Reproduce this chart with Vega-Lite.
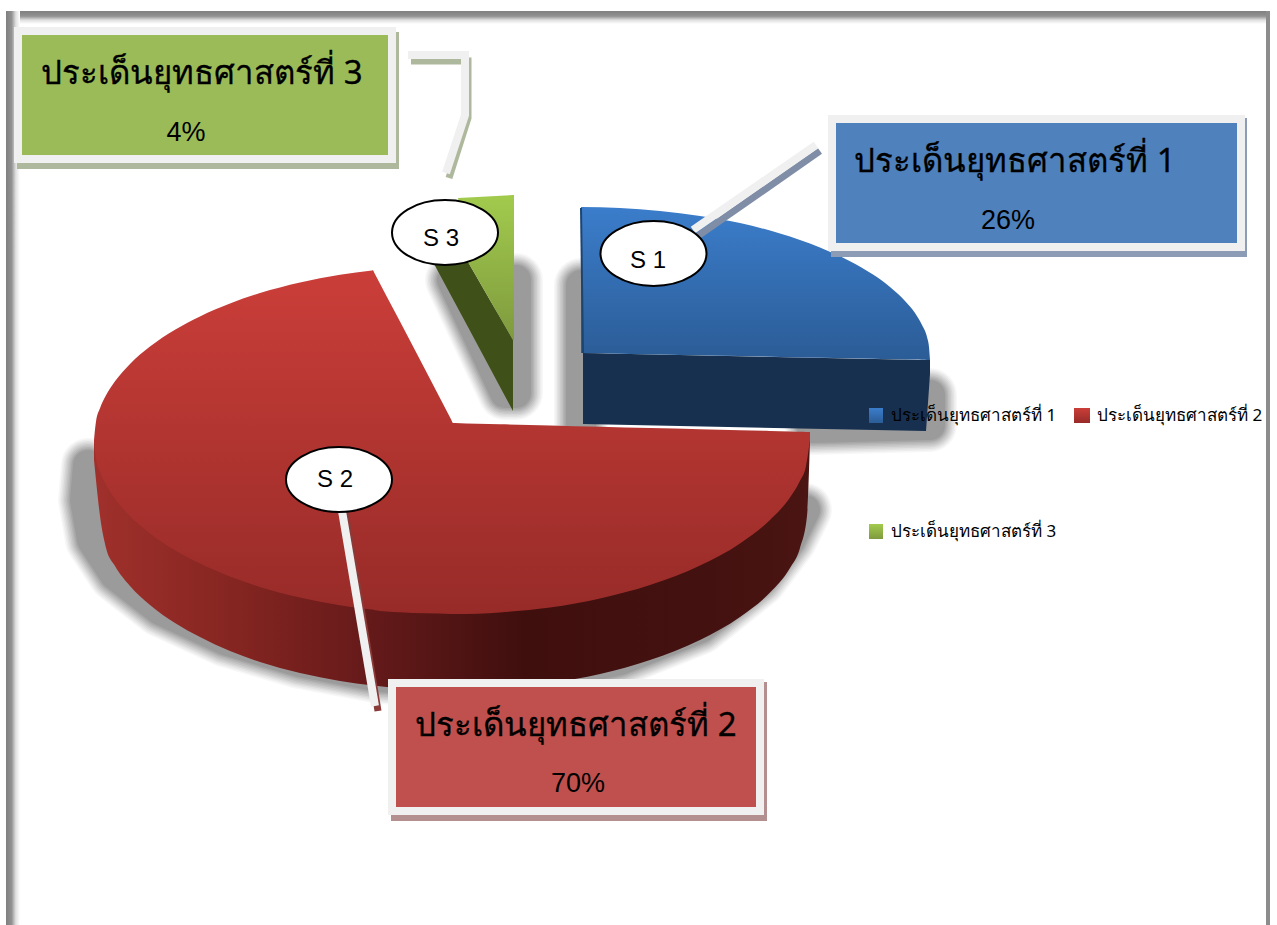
{"$schema":"https://vega.github.io/schema/vega-lite/v6.json","width":1277,"height":925,"padding":0,"autosize":"none","background":"white","config":{"view":{"stroke":null}},
"datasets":{
"redTop":[{"x":94,"y":440,"y2":440},{"x":96,"y":421.6,"y2":458.4},{"x":100,"y":408.3,"y2":471.7},{"x":106,"y":395.3,"y2":484.7},{"x":115,"y":381.3,"y2":498.7},{"x":130,"y":363.9,"y2":516.1},{"x":150,"y":346.6,"y2":533.4},{"x":175,"y":329.8,"y2":550.2},{"x":200,"y":316.4,"y2":563.6},{"x":230,"y":303.5,"y2":576.5},{"x":260,"y":293.1,"y2":586.9},{"x":300,"y":282.5,"y2":597.5},{"x":340,"y":274.7,"y2":605.3},{"x":372,"y":270.4,"y2":609.6},{"x":373,"y":270.3,"y2":609.7},{"x":374,"y":272.2,"y2":609.9},{"x":400,"y":321.6,"y2":612.2},{"x":451,"y":419.2,"y2":613.9},{"x":453,"y":423,"y2":614},{"x":455,"y":423.1,"y2":614},{"x":500,"y":424.2,"y2":612.4},{"x":550,"y":425.4,"y2":607.4},{"x":600,"y":426.7,"y2":598.4},{"x":650,"y":428,"y2":585},{"x":700,"y":429.2,"y2":565.5},{"x":740,"y":430.2,"y2":543.4},{"x":770,"y":431,"y2":519.9},{"x":790,"y":431.5,"y2":497.4},{"x":800,"y":431.8,"y2":480.8},{"x":806,"y":431.9,"y2":465.9},{"x":810,"y":432,"y2":440}],
"redSide":[{"x":94,"y":440,"y2":460},{"x":97,"y":440,"y2":490},{"x":100,"y":440,"y2":516},{"x":106,"y":440,"y2":548},{"x":115,"y":440,"y2":566},{"x":130,"y":440,"y2":586},{"x":150,"y":440,"y2":605},{"x":175,"y":440,"y2":623},{"x":200,"y":440,"y2":637},{"x":230,"y":440,"y2":651},{"x":260,"y":440,"y2":662},{"x":300,"y":440,"y2":673},{"x":340,"y":440,"y2":681},{"x":373,"y":440,"y2":685.5},{"x":400,"y":440,"y2":688},{"x":453,"y":440,"y2":690},{"x":500,"y":440,"y2":688.4},{"x":550,"y":440,"y2":683},{"x":600,"y":440,"y2":674},{"x":650,"y":440,"y2":660},{"x":700,"y":440,"y2":640},{"x":740,"y":440,"y2":617},{"x":770,"y":440,"y2":592.6},{"x":790,"y":440,"y2":568},{"x":800,"y":440,"y2":548},{"x":807,"y":440,"y2":516},{"x":810,"y":434,"y2":440}],
"blueTop":[{"x":581,"y":207,"y2":353},{"x":620,"y":208,"y2":353.7},{"x":660,"y":211,"y2":354.5},{"x":700,"y":216,"y2":355.3},{"x":740,"y":223,"y2":356.1},{"x":780,"y":233.5,"y2":356.9},{"x":820,"y":247.4,"y2":357.7},{"x":850,"y":261.2,"y2":358.3},{"x":873,"y":274.6,"y2":358.8},{"x":890,"y":287,"y2":359.1},{"x":905,"y":301,"y2":359.4},{"x":915,"y":313,"y2":359.6},{"x":922,"y":325,"y2":359.8},{"x":927,"y":337,"y2":359.9},{"x":929,"y":347,"y2":360},{"x":930,"y":360,"y2":360}],
"blueSide":[{"x":583,"y":353,"y2":424},{"x":926,"y":360,"y2":431},{"x":930,"y":360,"y2":374}],
"blueEdge":[{"x":581,"y":208},{"x":583,"y":353}],
"greenTop":[{"x":458,"y":198,"y2":198},{"x":468,"y":197.5,"y2":262},{"x":513,"y":195,"y2":340},{"x":514,"y":195,"y2":340}],
"greenSide":[{"x":433,"y":262,"y2":262},{"x":468,"y":262,"y2":327},{"x":513,"y":340,"y2":411}],
"shadows":[
{"s":"red","o":1,"x":88,"y":465},{"s":"red","o":2,"x":85,"y":500},{"s":"red","o":3,"x":92,"y":540},{"s":"red","o":4,"x":115,"y":575},{"s":"red","o":5,"x":160,"y":610},{"s":"red","o":6,"x":225,"y":640},{"s":"red","o":7,"x":300,"y":662},{"s":"red","o":8,"x":380,"y":677},{"s":"red","o":9,"x":455,"y":682},{"s":"red","o":10,"x":550,"y":675},{"s":"red","o":11,"x":620,"y":660},{"s":"red","o":12,"x":700,"y":628},{"s":"red","o":13,"x":760,"y":580},{"s":"red","o":14,"x":790,"y":540},{"s":"red","o":15,"x":805,"y":510},
{"s":"green","o":1,"x":452,"y":280},{"s":"green","o":2,"x":505,"y":393},{"s":"green","o":3,"x":516,"y":393},{"s":"green","o":4,"x":516,"y":280},
{"s":"blueL","o":1,"x":581,"y":285},{"s":"blueL","o":2,"x":581,"y":425},
{"s":"blueR","o":1,"x":930,"y":395},{"s":"blueR","o":2,"x":930,"y":425},{"s":"blueR","o":3,"x":812,"y":428}],
"leaderShadow":[
{"s":"blue","o":1,"c":"#7f8ea6","x":698,"y":236},{"s":"blue","o":2,"c":"#7f8ea6","x":820,"y":151},
{"s":"red","o":1,"c":"#8a3a38","x":344,"y":505},{"s":"red","o":2,"c":"#8a3a38","x":378,"y":711},
{"s":"green","o":1,"c":"#aeb89c","x":411,"y":61},{"s":"green","o":2,"c":"#aeb89c","x":468,"y":61},{"s":"green","o":3,"c":"#aeb89c","x":468,"y":118},{"s":"green","o":4,"c":"#aeb89c","x":449,"y":178}],
"leaders":[
{"s":"blue","o":1,"x":693,"y":230},{"s":"blue","o":2,"x":816,"y":145},
{"s":"red","o":1,"x":341,"y":505},{"s":"red","o":2,"x":375,"y":706},
{"s":"green","o":1,"x":408,"y":55},{"s":"green","o":2,"x":465,"y":55},{"s":"green","o":3,"x":465,"y":115},{"s":"green","o":4,"x":446,"y":173}],
"boxes":[
{"series":"ประเด็นยุทธศาสตร์ที่ 1","share":26,"title":"ประเด็นยุทธศาสตร์ที่ 1","pct":"26%","x":828,"x2":1245,"y":115,"y2":251,"sx":831,"sx2":1247,"sy":118,"sy2":257,"ix":836,"ix2":1237,"iy":123,"iy2":243,"tx":1015,"ty":162,"px":1008,"py":221,"hatch":"#8c9cb6","fill":"#4f81bd"},
{"series":"ประเด็นยุทธศาสตร์ที่ 2","share":70,"title":"ประเด็นยุทธศาสตร์ที่ 2","pct":"70%","x":388,"x2":764,"y":679,"y2":815,"sx":391,"sx2":767,"sy":682,"sy2":821,"ix":396,"ix2":756,"iy":687,"iy2":807,"tx":576,"ty":726,"px":578,"py":784,"hatch":"#b3908f","fill":"#c0504d"},
{"series":"ประเด็นยุทธศาสตร์ที่ 3","share":4,"title":"ประเด็นยุทธศาสตร์ที่ 3","pct":"4%","x":14,"x2":396,"y":27,"y2":163,"sx":17,"sx2":399,"sy":32,"sy2":169,"ix":22,"ix2":388,"iy":35,"iy2":155,"tx":202,"ty":74,"px":186,"py":133,"hatch":"#aeb89c","fill":"#9bbb59"}],
"bubbles":[{"t":"S 1","x":653.5,"y":253.5,"tx":648,"ty":261},{"t":"S 2","x":339,"y":479.5,"tx":335,"ty":480},{"t":"S 3","x":445,"y":232.5,"tx":441,"ty":239}],
"legend":[{"t":"ประเด็นยุทธศาสตร์ที่ 1","x":891,"y":416},{"t":"ประเด็นยุทธศาสตร์ที่ 2","x":1097,"y":416},{"t":"ประเด็นยุทธศาสตร์ที่ 3","x":891,"y":532}],
"swBlue":[{"x":869,"x2":883,"y":408,"y2":423}],"swRed":[{"x":1074,"x2":1090,"y":408,"y2":423}],"swGreen":[{"x":869,"x2":883,"y":524,"y2":539}],
"frameTop":[{"x":6,"x2":1270,"y":11,"y2":24}],"frameLeft":[{"x":6,"x2":20,"y":11,"y2":925}],"frameRight":[{"x":1266,"x2":1270,"y":11,"y2":925}]
},
"encoding":{"x":{"field":"x","type":"quantitative","scale":{"domain":[0,1277],"nice":false,"zero":false},"axis":null},"y":{"field":"y","type":"quantitative","scale":{"domain":[925,0],"nice":false,"zero":false},"axis":null}},
"layer":[
{"data":{"name":"frameTop"},"mark":{"type":"rect","fill":{"gradient":"linear","x1":0,"y1":0,"x2":0,"y2":1,"stops":[{"offset":0,"color":"#7f7f7f"},{"offset":0.4,"color":"#929292"},{"offset":0.7,"color":"#e0e0e0"},{"offset":1,"color":"#ffffff"}]}},"encoding":{"x2":{"field":"x2"},"y2":{"field":"y2"}}},
{"data":{"name":"frameLeft"},"mark":{"type":"rect","fill":{"gradient":"linear","x1":0,"y1":0,"x2":1,"y2":0,"stops":[{"offset":0,"color":"#7f7f7f"},{"offset":0.4,"color":"#929292"},{"offset":0.7,"color":"#e0e0e0"},{"offset":1,"color":"#ffffff"}]}},"encoding":{"x2":{"field":"x2"},"y2":{"field":"y2"}}},
{"data":{"name":"frameRight"},"mark":{"type":"rect","fill":"#8c8c8c"},"encoding":{"x2":{"field":"x2"},"y2":{"field":"y2"}}},
{"data":{"name":"shadows"},"mark":{"type":"line","stroke":"#000","opacity":0.03,"strokeWidth":54,"strokeJoin":"round","strokeCap":"round"},"encoding":{"detail":{"field":"s"},"order":{"field":"o"}}},
{"data":{"name":"shadows"},"mark":{"type":"line","stroke":"#000","opacity":0.04,"strokeWidth":51,"strokeJoin":"round","strokeCap":"round"},"encoding":{"detail":{"field":"s"},"order":{"field":"o"}}},
{"data":{"name":"shadows"},"mark":{"type":"line","stroke":"#000","opacity":0.04,"strokeWidth":48,"strokeJoin":"round","strokeCap":"round"},"encoding":{"detail":{"field":"s"},"order":{"field":"o"}}},
{"data":{"name":"shadows"},"mark":{"type":"line","stroke":"#000","opacity":0.05,"strokeWidth":45,"strokeJoin":"round","strokeCap":"round"},"encoding":{"detail":{"field":"s"},"order":{"field":"o"}}},
{"data":{"name":"shadows"},"mark":{"type":"line","stroke":"#000","opacity":0.05,"strokeWidth":42,"strokeJoin":"round","strokeCap":"round"},"encoding":{"detail":{"field":"s"},"order":{"field":"o"}}},
{"data":{"name":"shadows"},"mark":{"type":"line","stroke":"#000","opacity":0.06,"strokeWidth":39,"strokeJoin":"round","strokeCap":"round"},"encoding":{"detail":{"field":"s"},"order":{"field":"o"}}},
{"data":{"name":"shadows"},"mark":{"type":"line","stroke":"#000","opacity":0.06,"strokeWidth":36,"strokeJoin":"round","strokeCap":"round"},"encoding":{"detail":{"field":"s"},"order":{"field":"o"}}},
{"data":{"name":"shadows"},"mark":{"type":"line","stroke":"#000","opacity":0.07,"strokeWidth":33,"strokeJoin":"round","strokeCap":"round"},"encoding":{"detail":{"field":"s"},"order":{"field":"o"}}},
{"data":{"name":"shadows"},"mark":{"type":"line","stroke":"#000","opacity":0.07,"strokeWidth":30,"strokeJoin":"round","strokeCap":"round"},"encoding":{"detail":{"field":"s"},"order":{"field":"o"}}},
{"data":{"name":"redSide"},"mark":{"type":"area","interpolate":"monotone","fill":{"gradient":"linear","x1":0,"y1":0,"x2":1,"y2":0,"stops":[{"offset":0,"color":"#a0302b"},{"offset":0.2,"color":"#842521"},{"offset":0.38,"color":"#661a1a"},{"offset":0.6,"color":"#3f0f0e"},{"offset":0.85,"color":"#431110"},{"offset":1,"color":"#4a1512"}]}},"encoding":{"y2":{"field":"y2"}}},
{"data":{"name":"redTop"},"mark":{"type":"area","interpolate":"monotone","fill":{"gradient":"linear","x1":0,"y1":0,"x2":0,"y2":1,"stops":[{"offset":0,"color":"#cb3e39"},{"offset":1,"color":"#972b28"}]}},"encoding":{"y2":{"field":"y2"}}},
{"data":{"name":"greenSide"},"mark":{"type":"area","fill":"#3f5019"},"encoding":{"y2":{"field":"y2"}}},
{"data":{"name":"greenTop"},"mark":{"type":"area","fill":{"gradient":"linear","x1":0,"y1":0,"x2":0,"y2":1,"stops":[{"offset":0,"color":"#a2cb4d"},{"offset":1,"color":"#7f9a3e"}]}},"encoding":{"y2":{"field":"y2"}}},
{"data":{"name":"blueSide"},"mark":{"type":"area","fill":"#17304f"},"encoding":{"y2":{"field":"y2"}}},
{"data":{"name":"blueTop"},"mark":{"type":"area","interpolate":"monotone","fill":{"gradient":"linear","x1":0,"y1":0,"x2":0,"y2":1,"stops":[{"offset":0,"color":"#3b7dcb"},{"offset":1,"color":"#2b5c96"}]}},"encoding":{"y2":{"field":"y2"}}},
{"data":{"name":"blueEdge"},"mark":{"type":"line","stroke":"#1e4470","strokeWidth":2},"encoding":{}},
{"data":{"name":"boxes"},"mark":{"type":"rect"},"encoding":{"x":{"field":"sx"},"x2":{"field":"sx2"},"y":{"field":"sy"},"y2":{"field":"sy2"},"color":{"field":"hatch","type":"nominal","scale":null}}},
{"data":{"name":"boxes"},"mark":{"type":"rect","fill":"#f0f0f0"},"encoding":{"x2":{"field":"x2"},"y2":{"field":"y2"}}},
{"data":{"name":"boxes"},"mark":{"type":"rect"},"encoding":{"x":{"field":"ix"},"x2":{"field":"ix2"},"y":{"field":"iy"},"y2":{"field":"iy2"},"color":{"field":"fill","type":"nominal","scale":null}}},
{"data":{"name":"leaderShadow"},"mark":{"type":"line","strokeWidth":7},"encoding":{"detail":{"field":"s"},"order":{"field":"o"},"color":{"field":"c","type":"nominal","scale":null}}},
{"data":{"name":"leaders"},"mark":{"type":"line","stroke":"#f0f0f0","strokeWidth":8},"encoding":{"detail":{"field":"s"},"order":{"field":"o"}}},
{"data":{"name":"bubbles"},"mark":{"type":"point","shape":"M-1,0 A1,0.613 0 1,1 1,0 A1,0.613 0 1,1 -1,0 Z","size":11236,"filled":true,"fill":"#ffffff","stroke":"#000000","strokeWidth":2,"opacity":1},"encoding":{}},
{"data":{"name":"bubbles"},"mark":{"type":"text","font":"Liberation Sans","fontSize":24,"fill":"#000","align":"center","baseline":"middle"},"encoding":{"x":{"field":"tx"},"y":{"field":"ty"},"text":{"field":"t"}}},
{"data":{"name":"boxes"},"mark":{"type":"text","font":"Noto Sans","fontSize":33,"fill":"#000","stroke":"#000","strokeWidth":0.3,"align":"center","baseline":"middle"},"encoding":{"x":{"field":"tx"},"y":{"field":"ty"},"text":{"field":"title"}}},
{"data":{"name":"boxes"},"mark":{"type":"text","font":"Liberation Sans","fontSize":27,"fill":"#000","align":"center","baseline":"middle"},"encoding":{"x":{"field":"px"},"y":{"field":"py"},"text":{"field":"pct"}}},
{"data":{"name":"swBlue"},"mark":{"type":"rect","fill":{"gradient":"linear","x1":0,"y1":0,"x2":0,"y2":1,"stops":[{"offset":0,"color":"#3b7dcb"},{"offset":1,"color":"#2b5c96"}]}},"encoding":{"x2":{"field":"x2"},"y2":{"field":"y2"}}},
{"data":{"name":"swRed"},"mark":{"type":"rect","fill":{"gradient":"linear","x1":0,"y1":0,"x2":0,"y2":1,"stops":[{"offset":0,"color":"#cb3e39"},{"offset":1,"color":"#972b28"}]}},"encoding":{"x2":{"field":"x2"},"y2":{"field":"y2"}}},
{"data":{"name":"swGreen"},"mark":{"type":"rect","fill":{"gradient":"linear","x1":0,"y1":0,"x2":0,"y2":1,"stops":[{"offset":0,"color":"#a2cb4d"},{"offset":1,"color":"#7f9a3e"}]}},"encoding":{"x2":{"field":"x2"},"y2":{"field":"y2"}}},
{"data":{"name":"legend"},"mark":{"type":"text","font":"Noto Sans","fontSize":17,"fill":"#000","align":"left","baseline":"middle"},"encoding":{"text":{"field":"t"}}}
]}
